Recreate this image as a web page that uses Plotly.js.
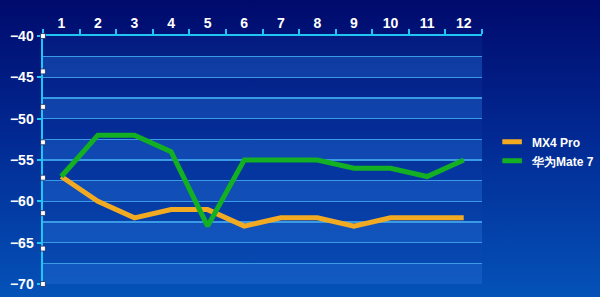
<!DOCTYPE html>
<html>
<head>
<meta charset="utf-8">
<script src="https://cdn.plot.ly/plotly-3.0.1.min.js"></script>
<style>
html,body{margin:0;padding:0;width:600px;height:297px;overflow:hidden;}
body{background:linear-gradient(to bottom,#000a6c 0%,#022892 45%,#0452b8 100%);}
#chart{width:600px;height:297px;}
</style>
</head>
<body>
<div id="chart"></div>
<script>
var categories = ['1','2','3','4','5','6','7','8','9','10','11','12'];
var mx4Pro = [-57,-60,-62,-61,-61,-63,-62,-62,-63,-62,-62,-62];
var mate7 = [-57,-52,-52,-54,-63,-55,-55,-55,-56,-56,-57,-55];
var seriesNames = ['MX4 Pro','华为Mate 7'];
var seriesColors = ['#f2aa22','#12b022'];
var yMin = -70, yMax = -40, yStep = 5, bandStep = 2.5;

var font = {family:'"Liberation Sans", Arial, sans-serif', color:'#ffffff', size:14};
var axisColor = '#22c4f4';
var gridColor = '#3a9ae6';

var traces = [];
[mx4Pro, mate7].forEach(function(vals,i){
  traces.push({
    type:'scatter', mode:'lines', x:categories, y:vals,
    line:{color:seriesColors[i], width:5},
    showlegend:false, hoverinfo:'skip'
  });
});
seriesNames.forEach(function(n,i){
  traces.push({
    type:'scatter', mode:'markers', x:[null], y:[null], name:'<b>'+n+'</b>',
    marker:{symbol:'line-ew', size:14, color:seriesColors[i], line:{color:seriesColors[i], width:5}},
    showlegend:true, hoverinfo:'skip'
  });
});

var shapes = [];
for (var v = yMin; v < yMax; v += 2*bandStep) {
  shapes.push({type:'rect', xref:'paper', yref:'y', x0:0, x1:1, y0:v, y1:v+bandStep,
    fillcolor:'rgba(40,120,225,0.32)', line:{width:0}, layer:'below'});
}
// selection handles on the value axis
var nh = 8;
for (var k = 0; k < nh; k++) {
  var yp = k/(nh-1);
  shapes.push({type:'rect', xref:'paper', yref:'paper', x0:-0.0055, x1:0.0055,
    y0:yp-0.01, y1:yp+0.01, fillcolor:'#ffffff', line:{color:'#1a2a60', width:0.8}, layer:'above'});
}

var layout = {
  width:600, height:297,
  margin:{l:43, r:118, t:36, b:13, autoexpand:false},
  paper_bgcolor:'rgba(0,0,0,0)',
  plot_bgcolor:'rgba(20,70,180,0.18)',
  font:font,
  showlegend:true,
  legend:{x:1.023, xanchor:'left', y:0.535, yanchor:'middle', bgcolor:'rgba(0,0,0,0)',
    font:{family:font.family, size:12, color:'#ffffff'}, tracegroupgap:0},
  xaxis:{
    type:'category', side:'top', tickson:'boundaries',
    ticks:'outside', ticklen:5, tickwidth:2, tickcolor:axisColor,
    showline:true, linecolor:axisColor, linewidth:2.5,
    showgrid:false, zeroline:false, fixedrange:true,
    tickfont:{family:font.family, size:14, color:'#ffffff', weight:'bold'},
    range:[-0.5, 11.5]
  },
  yaxis:{
    range:[yMin, yMax], dtick:yStep, tick0:yMin,
    ticks:'outside', ticklen:4, tickwidth:2, tickcolor:axisColor,
    showline:true, linecolor:axisColor, linewidth:2.5,
    showgrid:true, gridcolor:gridColor, gridwidth:1.5,
    minor:{dtick:bandStep, showgrid:true, gridcolor:gridColor, gridwidth:1.5, ticks:''},
    zeroline:false, fixedrange:true,
    tickfont:{family:font.family, size:14, color:'#ffffff', weight:'bold'}
  },
  shapes:shapes
};

Plotly.newPlot('chart', traces, layout, {displayModeBar:false, staticPlot:true});
</script>
</body>
</html>
